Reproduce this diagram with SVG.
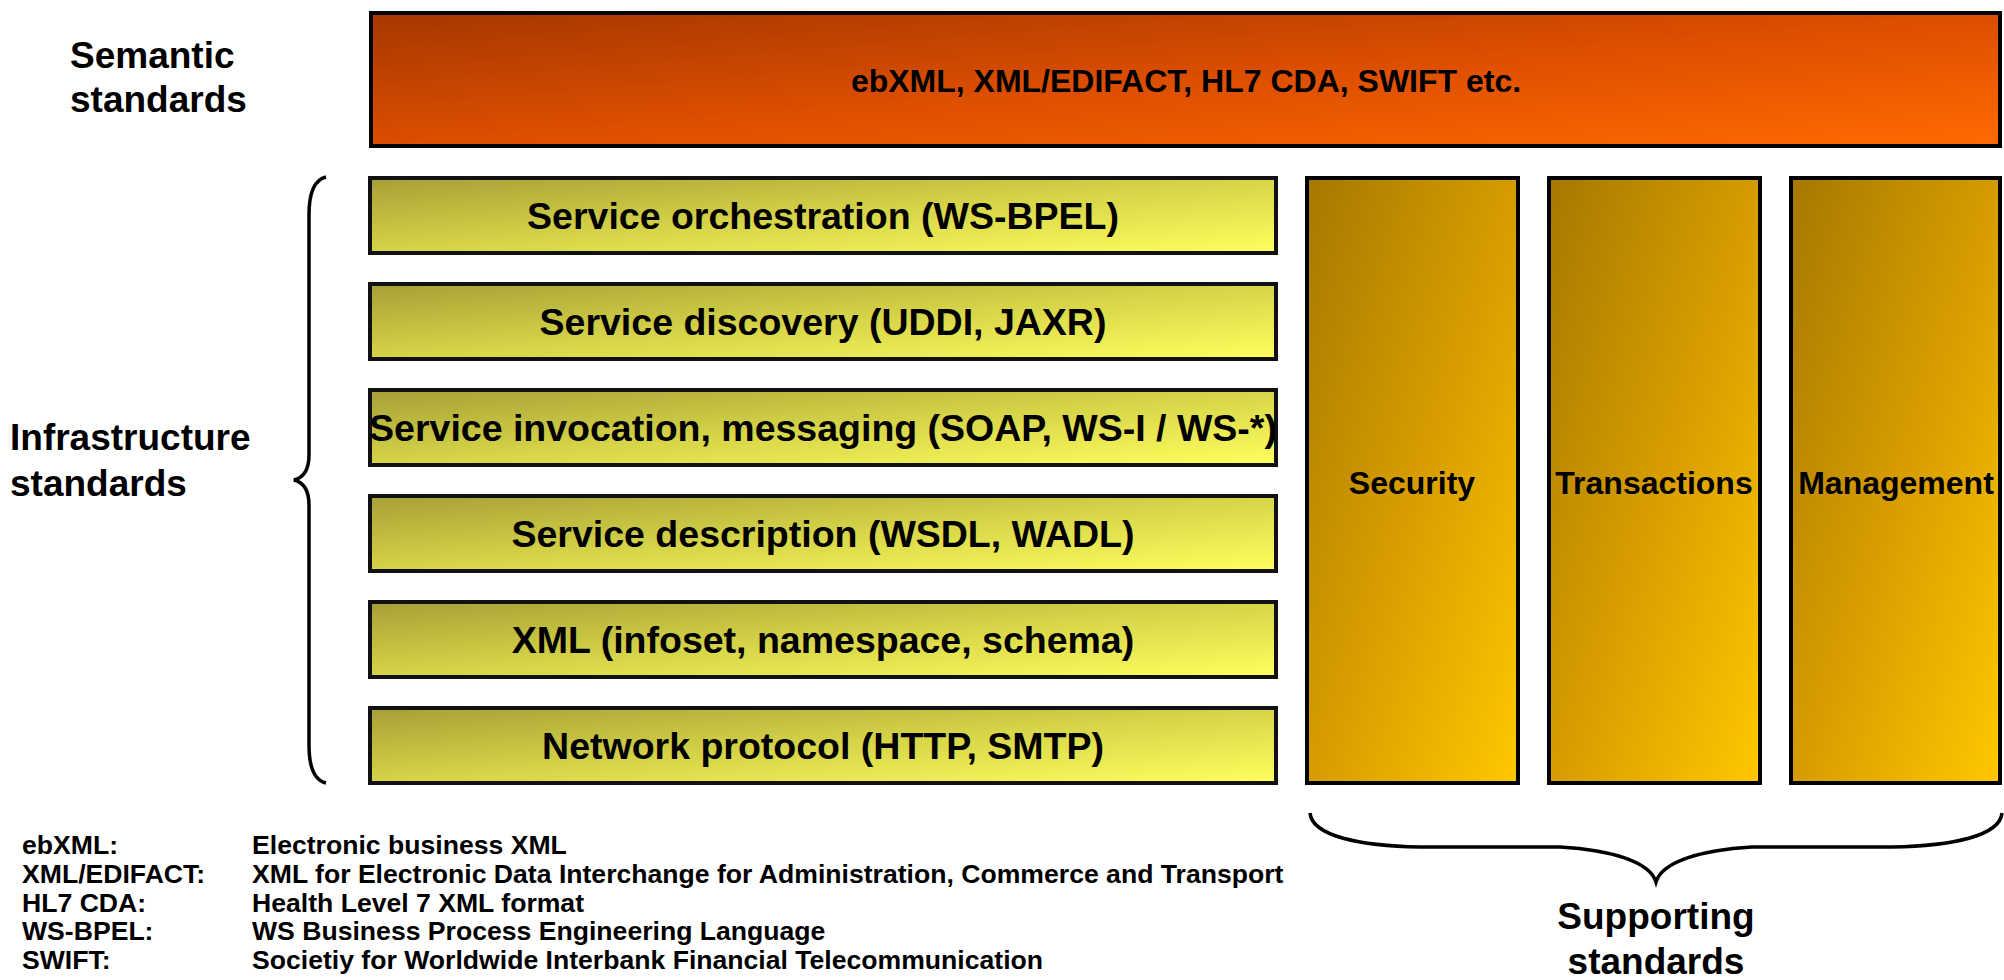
<svg xmlns="http://www.w3.org/2000/svg" width="2004" height="980" viewBox="0 0 2004 980">
<defs>
<linearGradient id="gOrange" x1="0" y1="0" x2="1" y2="1">
<stop offset="0" stop-color="#A53700"/>
<stop offset="0.5" stop-color="#DC4E00"/>
<stop offset="1" stop-color="#FF6A00"/>
</linearGradient>
<linearGradient id="gYellow" x1="0" y1="0" x2="1" y2="1">
<stop offset="0" stop-color="#A6A036"/>
<stop offset="0.5" stop-color="#D6D448"/>
<stop offset="1" stop-color="#FFFF5E"/>
</linearGradient>
<linearGradient id="gGold" x1="0" y1="0" x2="1" y2="1">
<stop offset="0" stop-color="#A67800"/>
<stop offset="0.5" stop-color="#D69C00"/>
<stop offset="1" stop-color="#FFC800"/>
</linearGradient>
<style>
text{font-family:"Liberation Sans",Arial,sans-serif;font-weight:bold;fill:#000}
.lbl{font-size:37px}
.box{font-size:37.5px;text-anchor:middle}
.sup{font-size:32px;text-anchor:middle}
.top{font-size:32px;text-anchor:middle}
.leg{font-size:26.6px}
.y{fill:url(#gYellow);stroke:#111;stroke-width:4}
.g{fill:url(#gGold);stroke:#000;stroke-width:4}
.brace{fill:none;stroke:#000;stroke-width:3.5}
</style>
</defs>
<rect width="2004" height="980" fill="#fff"/>

<g id="semantic-label">
<text class="lbl" x="70" y="68">Semantic</text>
<text class="lbl" x="70" y="112">standards</text>
</g>
<g id="semantic-box">
<rect x="371" y="13" width="1629" height="133" fill="url(#gOrange)" stroke="#000" stroke-width="4"/>
<text class="top" x="1186" y="92">ebXML, XML/EDIFACT, HL7 CDA, SWIFT etc.</text>
</g>

<g id="infra-label">
<text class="lbl" x="10" y="450">Infrastructure</text>
<text class="lbl" x="10" y="496">standards</text>
</g>

<g id="layer-orchestration">
<rect class="y" x="370" y="178" width="906" height="75"/>
<text class="box" x="823" y="229">Service orchestration (WS-BPEL)</text>
</g>
<g id="layer-discovery">
<rect class="y" x="370" y="284" width="906" height="75"/>
<text class="box" x="823" y="335">Service discovery (UDDI, JAXR)</text>
</g>
<g id="layer-invocation">
<rect class="y" x="370" y="390" width="906" height="75"/>
<text class="box" x="823" y="441">Service invocation, messaging (SOAP, WS-I / WS-*)</text>
</g>
<g id="layer-description">
<rect class="y" x="370" y="496" width="906" height="75"/>
<text class="box" x="823" y="547">Service description (WSDL, WADL)</text>
</g>
<g id="layer-xml">
<rect class="y" x="370" y="602" width="906" height="75"/>
<text class="box" x="823" y="653">XML (infoset, namespace, schema)</text>
</g>
<g id="layer-network">
<rect class="y" x="370" y="708" width="906" height="75"/>
<text class="box" x="823" y="759">Network protocol (HTTP, SMTP)</text>
</g>

<g id="security">
<rect class="g" x="1307" y="178" width="211" height="605"/>
<text class="sup" x="1412" y="494">Security</text>
</g>
<g id="transactions">
<rect class="g" x="1549" y="178" width="211" height="605"/>
<text class="sup" x="1654" y="494">Transactions</text>
</g>
<g id="management">
<rect class="g" x="1791" y="178" width="209" height="605"/>
<text class="sup" x="1896" y="494">Management</text>
</g>

<g id="connectors">
<path class="brace" d="M326 177 C313 180 309 195 309 215 L309 455 C309 472 302 478 294 480 C302 482 309 488 309 505 L309 745 C309 765 313 780 326 783"/>
<path class="brace" d="M1310 813 C1312 836 1360 846 1420 847 L1560 847 C1612 850 1650 862 1656 882 C1662 862 1700 850 1752 847 L1892 847 C1952 846 2000 836 2002 813"/>
</g>

<g id="supporting-label">
<text class="lbl" x="1656" y="929" text-anchor="middle">Supporting</text>
<text class="lbl" x="1656" y="974" text-anchor="middle">standards</text>
</g>

<g id="legend">
<text class="leg" x="22" y="854">ebXML:</text>
<text class="leg" x="252" y="854">Electronic business XML</text>
<text class="leg" x="22" y="883">XML/EDIFACT:</text>
<text class="leg" x="252" y="883">XML for Electronic Data Interchange for Administration, Commerce and Transport</text>
<text class="leg" x="22" y="912">HL7 CDA:</text>
<text class="leg" x="252" y="912">Health Level 7 XML format</text>
<text class="leg" x="22" y="940">WS-BPEL:</text>
<text class="leg" x="252" y="940">WS Business Process Engineering Language</text>
<text class="leg" x="22" y="969">SWIFT:</text>
<text class="leg" x="252" y="969">Societiy for Worldwide Interbank Financial Telecommunication</text>
</g>
</svg>
